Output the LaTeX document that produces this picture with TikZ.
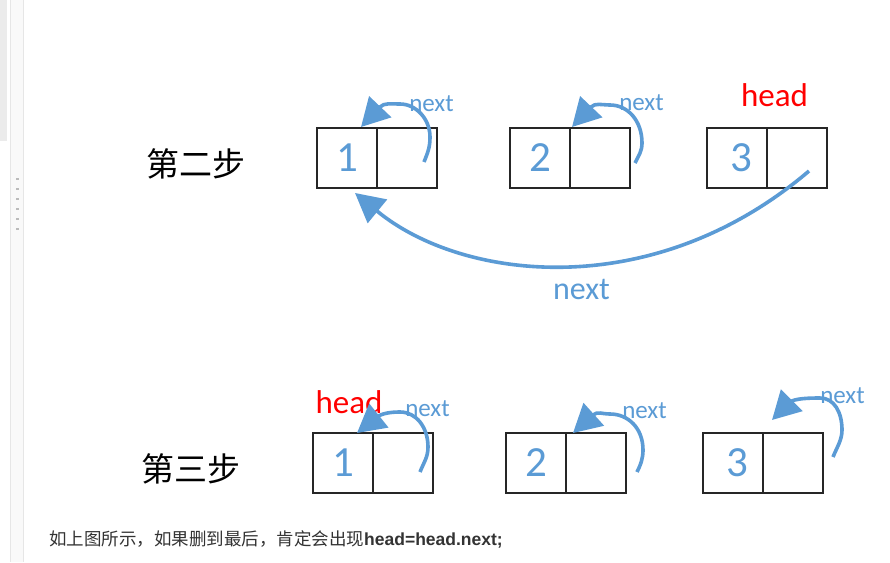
\documentclass[tikz,border=0pt]{standalone}
\usepackage{fontspec}
\setmainfont{Carlito}
\newfontfamily\cjkfont{Noto Sans CJK SC}
\newfontfamily\arialfont{Liberation Sans}
\usetikzlibrary{arrows.meta,calc}
\definecolor{lnblue}{HTML}{5B9BD5}
\definecolor{sidegray}{HTML}{EBEBEB}
\definecolor{sidepanel}{HTML}{F9F9F9}
\definecolor{sideline}{HTML}{E6E6E6}
\definecolor{dashgray}{HTML}{BBBBBB}
\definecolor{notegray}{HTML}{333333}
\begin{document}
\begin{tikzpicture}[x=1pt,y=-1pt,
  cell/.style={draw=black!85, line width=1.1pt, minimum width=60pt, minimum height=60pt, inner sep=0pt, outer sep=0pt, anchor=north west},
  num/.style={text=lnblue, font=\fontsize{43}{43}\selectfont},
  nextlbl/.style={text=lnblue, font=\fontsize{25}{25}\selectfont, inner sep=0pt, anchor=base},
  bignext/.style={text=lnblue, font=\fontsize{32}{32}\selectfont, inner sep=0pt, anchor=base},
  headlbl/.style={text=red, font=\fontsize{33}{33}\selectfont, inner sep=0pt, anchor=base},
  steplbl/.style={font=\cjkfont\fontsize{33}{33}\selectfont, inner sep=0pt},
  loopar/.style={draw=lnblue, line width=3.6pt, -{Triangle[length=28pt,width=30pt]}},
  bigar/.style={draw=lnblue, line width=3.6pt, -{Triangle[length=29pt,width=30pt]}},
]
\useasboundingbox (0,0) rectangle (890,562);
\fill[white] (0,0) rectangle (890,562);
% sidebar
\fill[sidegray] (0,0) rectangle (7,141);
\fill[sidepanel] (10,0) rectangle (24,562);
\draw[sideline, line width=1pt] (10.5,0) -- (10.5,562);
\draw[sideline, line width=1pt] (23.5,0) -- (23.5,562);
\foreach \yy in {179,189,...,229} \fill[dashgray] (16,\yy-0.75) rectangle (18.5,\yy+0.75);

% step labels
\node[steplbl] (s2) at (196,164) {第二步};
\node[steplbl] (s3) at (191,469) {第三步};

% step 2 boxes
\node[cell, num] (b1l) at (317,128) {1};
\node[cell] (b1r) at (377,128) {};
\node[cell, num] (b2l) at (510,128) {2};
\node[cell] (b2r) at (570,128) {};
\node[cell, num] (b3l) at (707,128) {\kern9pt 3};
\node[cell] (b3r) at (767,128) {};

% step 3 boxes
\node[cell, num] (c1l) at (313,433) {1};
\node[cell] (c1r) at (373,433) {};
\node[cell, num] (c2l) at (506,433) {2};
\node[cell] (c2r) at (566,433) {};
\node[cell, num] (c3l) at (703,433) {\kern9pt 3};
\node[cell] (c3r) at (763,433) {};

% labels
\node[headlbl] (h2) at (774.5,106.5) {head};
\node[headlbl] (h3) at (349,413) {head};
\node[nextlbl] (n1) at (431.5,111) {next};
\node[nextlbl] (n2) at (641.5,110) {next};
\node[nextlbl] (n3) at (427.5,416.5) {next};
\node[nextlbl] (n4) at (644.5,418) {next};
\node[nextlbl] (n5) at (842.5,403) {next};
\node[bignext] (n6) at (581.5,299) {next};

% loop step2 box1
\coordinate (a1s) at ($(b1r.north west)+(47,34)$);
\coordinate (a1r) at ($(b1r.north west)+(53,9)$);
\coordinate (a1p) at ($(b1r.north west)+(23,-24)$);
\coordinate (a1b) at ($(b1r.north west)+(3,-21)$);
\coordinate (a1t) at ($(b1r.north west)+(-16,-1)$);
\draw[loopar] (a1s) .. controls +(4,-10) and +(0,10) .. (a1r) .. controls +(0,-18) and +(16,0) .. (a1p) .. controls +(-9,0) and +(4,-4.3) .. (a1b) -- (a1t);

% loop step2 box2
\coordinate (a2s) at ($(b2r.north west)+(65,35)$);
\coordinate (a2r) at ($(b2r.north west)+(72,15)$);
\coordinate (a2p) at ($(b2r.north west)+(40,-23)$);
\coordinate (a2b) at ($(b2r.north west)+(21,-21)$);
\coordinate (a2t) at ($(b2r.north west)+(2,-1)$);
\draw[loopar] (a2s) .. controls +(4,-8) and +(0,8) .. (a2r) .. controls +(0,-22) and +(18,0) .. (a2p) .. controls +(-8,0) and +(4,-4.3) .. (a2b) -- (a2t);

% big arc step2 box3 -> box1
\coordinate (a3s) at ($(b3r.north west)+(42,43)$);
\coordinate (a3b) at ($(b1l.north west)+(60,83)$);
\coordinate (a3t) at ($(b1l.north west)+(38,65)$);
\draw[bigar] (a3s) .. controls +(-156,133) and +(85,70) .. (a3b) -- (a3t);

% loop step3 box1
\coordinate (c1s) at ($(c1r.north west)+(47,39)$);
\coordinate (c1rr) at ($(c1r.north west)+(55,14)$);
\coordinate (c1p) at ($(c1r.north west)+(27,-21)$);
\coordinate (c1b) at ($(c1r.north west)+(4,-16)$);
\coordinate (c1t) at ($(c1r.north west)+(-16,0)$);
\draw[loopar] (c1s) .. controls +(4,-10) and +(0,10) .. (c1rr) .. controls +(0,-20) and +(16,0) .. (c1p) .. controls +(-9,0) and +(4.7,-3.7) .. (c1b) -- (c1t);

% loop step3 box2
\coordinate (c2s) at ($(c2r.north west)+(71,39)$);
\coordinate (c2rr) at ($(c2r.north west)+(77,17)$);
\coordinate (c2p) at ($(c2r.north west)+(44,-19)$);
\coordinate (c2b) at ($(c2r.north west)+(27,-18)$);
\coordinate (c2t) at ($(c2r.north west)+(7,0)$);
\draw[loopar] (c2s) .. controls +(4,-8) and +(0,8) .. (c2rr) .. controls +(0,-22) and +(18,0) .. (c2p) .. controls +(-8,0) and +(4.6,-3.9) .. (c2b) -- (c2t);

% loop step3 box3
\coordinate (c3s) at ($(c3r.north west)+(70,24)$);
\coordinate (c3rr) at ($(c3r.north west)+(79,-3)$);
\coordinate (c3p) at ($(c3r.north west)+(57,-35)$);
\coordinate (c3b) at ($(c3r.north west)+(26.5,-30.5)$);
\coordinate (c3t) at ($(c3r.north west)+(9,-13)$);
\draw[loopar] (c3s) .. controls +(4,-10) and +(0,10) .. (c3rr) .. controls +(0,-18) and +(14,0) .. (c3p) .. controls +(-10,0) and +(4.2,-4.2) .. (c3b) -- (c3t);

% note
\node[anchor=base west, inner sep=0pt, text=notegray] (note) at (49,545) {\cjkfont\fontsize{17.5}{17.5}\selectfont 如上图所示，如果删到最后，肯定会出现\arialfont\bfseries head=head.next;};
\end{tikzpicture}
\end{document}
